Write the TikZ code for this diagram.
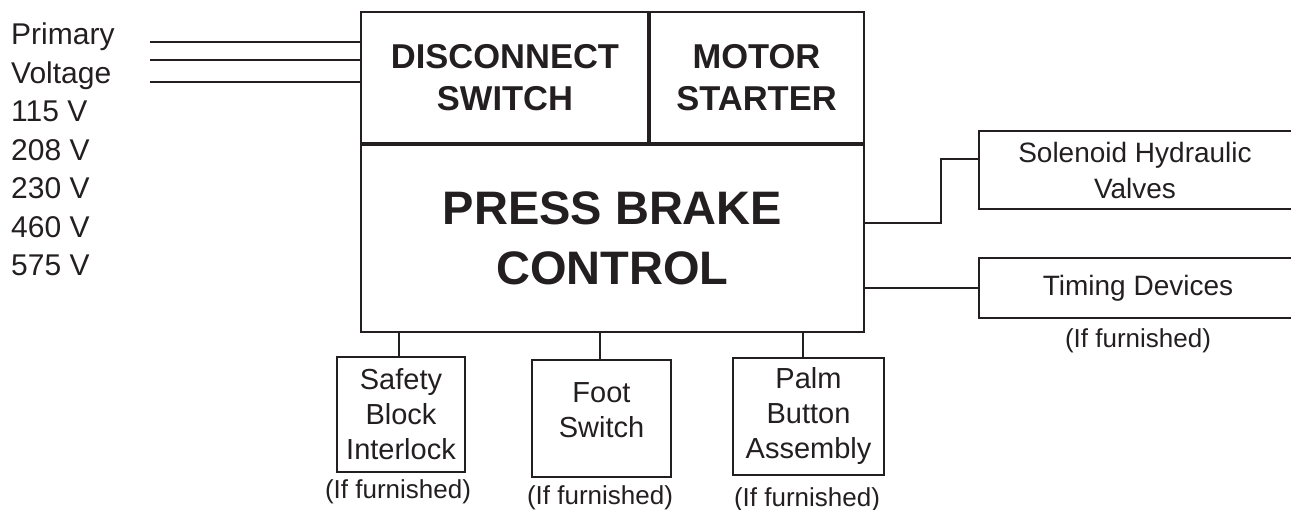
\documentclass[tikz,border=0pt]{standalone}
\usepackage{fontspec}
\setmainfont{Liberation Sans}
\definecolor{ink}{HTML}{231F20}
\begin{document}
\begin{tikzpicture}[x=1pt,y=-1pt,
  boxline/.style={draw=ink, line width=2.6pt},
  wire/.style={draw=ink, line width=2.4pt},
  cellbox/.style={boxline, inner sep=0pt, outer sep=0pt, align=center, text=ink},
  headfont/.style={font=\fontsize{34.5}{42}\selectfont\bfseries},
  bigfont/.style={font=\fontsize{47}{60}\selectfont\bfseries},
  lefttxt/.style={inner sep=0pt, text=ink, font=\fontsize{30}{38}\selectfont},
  sidebox/.style={inner sep=0pt, outer sep=0pt, align=center, text=ink, font=\fontsize{28}{36}\selectfont},
  smallbox/.style={boxline, inner sep=0pt, outer sep=0pt, align=center, text=ink, font=\fontsize{29}{35}\selectfont},
  plaintxt/.style={inner sep=0pt, align=center, text=ink, font=\fontsize{29}{35}\selectfont},
  note/.style={inner sep=0pt, text=ink, font=\fontsize{26}{30}\selectfont}
]
\useasboundingbox (0,0) rectangle (1291,510);

% main block
\node[cellbox, headfont, minimum width=288pt, minimum height=131pt] (disc) at (505,77.5) {DISCONNECT\\SWITCH};
\node[cellbox, headfont, minimum width=215pt, minimum height=131pt] (motor) at (756.5,77.5) {MOTOR\\STARTER};
\node[cellbox, bigfont, minimum width=503pt, minimum height=188pt] (control) at (612.5,238) {PRESS BRAKE\\CONTROL};
\draw[draw=ink, line width=4pt] (control.north west) -- (control.north east);
\draw[draw=ink, line width=3.4pt] (disc.north east) -- (disc.south east);

% left voltage list
\foreach \t [count=\i] in {Primary, Voltage, 115 V, 208 V, 230 V, 460 V, 575 V}
  \node[lefttxt, anchor=base west] (v\i) at (11,{45+38.5*(\i-1)}) {\t};

% primary voltage input lines
\coordinate (in1) at (150,42);
\coordinate (in2) at (150,60);
\coordinate (in3) at (150,82);
\draw[wire] (in1) -- (in1 -| disc.west);
\draw[wire] (in2) -- (in2 -| disc.west);
\draw[wire] (in3) -- (in3 -| disc.west);

% right side boxes (open on the right)
\node[sidebox, minimum width=312pt, minimum height=78pt] (sol) at (1135,170) {Solenoid Hydraulic\\Valves};
\draw[boxline] (sol.north east) -- (sol.north west) -- (sol.south west) -- (sol.south east);
\node[sidebox, minimum width=312pt, minimum height=60pt] (tim) at (1135,288) {\hspace{6pt}Timing Devices};
\draw[boxline] (tim.north east) -- (tim.north west) -- (tim.south west) -- (tim.south east);
\node[note] (tnote) at (1138,341) {(If furnished)};

\coordinate (sj1) at (941,223);
\coordinate (sj2) at (941,159);
\draw[wire] (control.east |- sj1) -- (sj1) -- (sj2) -- (sol.west |- sj2);
\draw[wire] (control.east |- tim.west) -- (tim.west);

% bottom boxes
\node[smallbox, minimum width=128pt, minimum height=115pt] (safety) at (401,414.5) {Safety\\Block\\Interlock};
\node[smallbox, minimum width=139pt, minimum height=117pt] (foot) at (601.5,418.5) {};
\node[plaintxt] (foottxt) at (601.5,410) {Foot\\Switch};
\node[smallbox, minimum width=151pt, minimum height=117pt] (palm) at (808.5,416.5) {Palm\\Button\\Assembly};

\coordinate (st1) at (399,0);
\coordinate (st2) at (600,0);
\coordinate (st3) at (803,0);
\draw[wire] (control.south -| st1) -- (safety.north -| st1);
\draw[wire] (control.south -| st2) -- (foot.north -| st2);
\draw[wire] (control.south -| st3) -- (palm.north -| st3);

\node[note] (snote) at (398,492) {(If furnished)};
\node[note] (fnote) at (600,498) {(If furnished)};
\node[note] (pnote) at (807,500) {(If furnished)};
\end{tikzpicture}
\end{document}
